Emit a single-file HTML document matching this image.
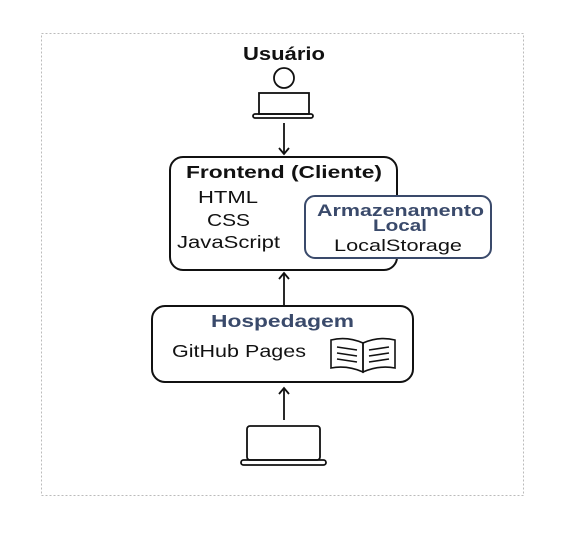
<!DOCTYPE html>
<html><head><style>
body{margin:0;background:#fff;width:576px;height:553px;overflow:hidden}
</style></head><body>
<svg width="576" height="553" xmlns="http://www.w3.org/2000/svg" font-family="Liberation Sans, sans-serif">
<rect x="41.5" y="33.5" width="482" height="462" fill="none" stroke="#bbb" stroke-dasharray="2,2"/>
<text x="243" y="60" font-size="18" font-weight="bold" textLength="82" lengthAdjust="spacingAndGlyphs" fill="#111">Usuário</text>
<circle cx="284" cy="78" r="10" fill="none" stroke="#111" stroke-width="1.8"/>
<rect x="259" y="93" width="50" height="21" fill="none" stroke="#111" stroke-width="1.8"/>
<rect x="253" y="114" width="60" height="4" rx="2" fill="none" stroke="#111" stroke-width="1.8"/>
<g stroke="#111" stroke-width="1.8" fill="none">
<line x1="284" y1="123" x2="284" y2="154"/><polyline points="279,148 284,154 289,148"/>
<line x1="284" y1="306" x2="284" y2="273"/><polyline points="279,279 284,273 289,279"/>
<line x1="284" y1="420" x2="284" y2="388"/><polyline points="279,394 284,388 289,394"/>
</g>
<rect x="170" y="157" width="227" height="113" rx="13" fill="#fff" stroke="#111" stroke-width="2"/>
<text x="186" y="178" font-size="17.5" font-weight="bold" textLength="196" lengthAdjust="spacingAndGlyphs" fill="#111">Frontend (Cliente)</text>
<text x="198" y="203" font-size="17.5" textLength="60" lengthAdjust="spacingAndGlyphs" fill="#111">HTML</text>
<text x="207" y="226" font-size="17.5" textLength="43" lengthAdjust="spacingAndGlyphs" fill="#111">CSS</text>
<text x="177" y="248" font-size="17.5" textLength="103" lengthAdjust="spacingAndGlyphs" fill="#111">JavaScript</text>
<rect x="305" y="196" width="186" height="62" rx="10" fill="#fff" stroke="#3a4a6b" stroke-width="2"/>
<text x="317" y="216" font-size="16.5" font-weight="bold" textLength="167" lengthAdjust="spacingAndGlyphs" fill="#3a4a6b">Armazenamento</text>
<text x="373" y="231" font-size="16.5" font-weight="bold" textLength="54" lengthAdjust="spacingAndGlyphs" fill="#3a4a6b">Local</text>
<text x="334" y="251" font-size="17" textLength="128" lengthAdjust="spacingAndGlyphs" fill="#111">LocalStorage</text>
<rect x="152" y="306" width="261" height="76" rx="13" fill="#fff" stroke="#111" stroke-width="2"/>
<text x="211" y="327" font-size="17.5" font-weight="bold" textLength="143" lengthAdjust="spacingAndGlyphs" fill="#3a4a6b">Hospedagem</text>
<text x="172" y="357" font-size="17.5" textLength="134" lengthAdjust="spacingAndGlyphs" fill="#111">GitHub Pages</text>
<g stroke="#111" stroke-width="1.6" fill="none">
<path d="M331,340 Q347,336 363,343 L363,372 Q347,365 331,368 Z"/>
<path d="M395,340 Q379,336 363,343 L363,372 Q379,365 395,368 Z"/>
<line x1="337" y1="347" x2="357" y2="350"/><line x1="337" y1="353" x2="357" y2="356"/><line x1="337" y1="359" x2="357" y2="362"/>
<line x1="369" y1="350" x2="389" y2="347"/><line x1="369" y1="356" x2="389" y2="353"/><line x1="369" y1="362" x2="389" y2="359"/>
</g>
<rect x="247" y="426" width="73" height="34" rx="3" fill="none" stroke="#111" stroke-width="1.8"/>
<rect x="241" y="460" width="85" height="5" rx="2.5" fill="none" stroke="#111" stroke-width="1.8"/>
</svg>
</body></html>
